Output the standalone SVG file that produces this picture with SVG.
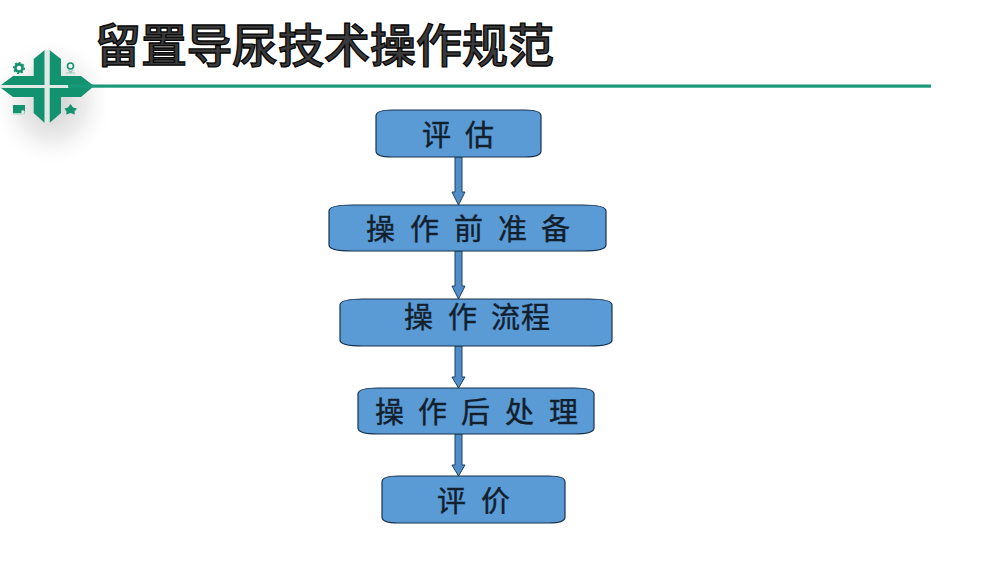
<svg xmlns="http://www.w3.org/2000/svg" width="1000" height="563" viewBox="0 0 1000 563">
<style>
.box{fill:#5b9bd5;stroke:#17324d;stroke-width:1.2}
.arr{fill:#4f8ec9;stroke:#1f3f5f;stroke-width:1}
.t{font-family:"Noto Sans CJK SC","Liberation Sans",sans-serif;font-size:29px;font-weight:400;fill:#12202e;stroke:#12202e;stroke-width:.4}
.title{font-family:"Noto Sans CJK SC","Liberation Sans",sans-serif;font-size:46px;font-weight:500;fill:#3a3a3a;stroke:#050505;stroke-width:1.3}
.g{fill:#12926f}
</style>
<defs>
<radialGradient id="sh" cx=".5" cy=".5" r=".5"><stop offset="0" stop-color="#bdbdbd" stop-opacity=".8"/><stop offset=".55" stop-color="#d0d0d0" stop-opacity=".4"/><stop offset="1" stop-color="#fff" stop-opacity="0"/></radialGradient>
</defs>
<rect width="1000" height="563" fill="#fff"/>
<g id="logo">
<ellipse cx="52" cy="102" rx="62" ry="66" fill="url(#sh)"/>
<path class="g" d="M1 85L13 76H33.700V59L44.700 50V85Z"/>
<path class="g" d="M49.500 50L61 59V76H81L94 86L81 97H61V113L49.500 123V88H68.500V85H49.500Z"/>
<path class="g" d="M1 88H44.700V123L33.700 113V97H13Z"/>
<rect x="0" y="85" width="69" height="3" fill="#dfe9e5"/>
<rect x="44.700" y="50" width="4.800" height="73" fill="#dfe9e5"/>
<circle cx="19" cy="68" r="3.600" fill="none" stroke="#12926f" stroke-width="2.600"/>
<circle cx="19" cy="68" r="5.300" fill="none" stroke="#12926f" stroke-width="1.400" stroke-dasharray="2 2"/>
<circle cx="70.500" cy="66" r="3" fill="none" stroke="#12926f" stroke-width="1.600"/>
<path d="M68 69.500L70.500 72.500L73 69.500M66 73H75" fill="none" stroke="#8ccbb7" stroke-width="1.200"/>
<rect x="13" y="105" width="12" height="8" class="g"/>
<rect x="13" y="113" width="12" height="1.500" fill="#a9d8ca"/>
<circle cx="23" cy="112" r="1.800" fill="#e8efec"/>
<path class="g" d="M70.500 104L73 107.500L77 108.500L74.500 111.500L74.800 114.500L70.500 113L66.200 114.500L66.500 111.500L64.500 108.500L68 107.500Z"/>
</g>
<rect id="rule" x="68" y="84.500" width="863" height="3.200" fill="#179a78"/>
<text id="title" class="title" y="62" x="95 141 186.500 232 278 324 370 416 462 508">留置导尿技术操作规范</text>
<g id="connectors">
<path class="arr" d="M455 157H462V192H465L458.500 205L452 192H455Z"/>
<path class="arr" d="M455 251H462V286H465L458.500 299L452 286H455Z"/>
<path class="arr" d="M455 346H462V377H465L458.500 388L452 377H455Z"/>
<path class="arr" d="M455 434H462V465H465L458.500 476L452 465H455Z"/>
</g>
<g id="node1"><path class="box" d="M376 116C376 112 382 110 392 110H525C535 110 541 112 541 116V151C541 155 535 157 525 157H392C382 157 376 155 376 151Z"/>
<text class="t" y="146" x="422 465">评估</text></g>
<g id="node2"><path class="box" d="M329 211C329 207 338 205 352 205H583C597 205 606 207 606 211V245C606 249 597 251 583 251H352C338 251 329 249 329 245Z"/>
<text class="t" y="240" x="366 410 454 498 541">操作前准备</text></g>
<g id="node3"><path class="box" d="M340 305C340 301 349 299 363 299H589C603 299 612 301 612 305V340C612 344 603 346 589 346H363C349 346 340 344 340 340Z"/>
<text class="t" y="328" x="404 448 491 521">操作流程</text></g>
<g id="node4"><path class="box" d="M358 394C358 390 366 388 378 388H574C586 388 594 390 594 394V428C594 432 586 434 574 434H378C366 434 358 432 358 428Z"/>
<text class="t" y="423" x="375 418 461 505 549">操作后处理</text></g>
<g id="node5"><path class="box" d="M382 482C382 478 388 476 398 476H549C559 476 565 478 565 482V517C565 521 559 523 549 523H398C388 523 382 521 382 517Z"/>
<text class="t" y="512" x="437 481">评价</text></g>
</svg>
